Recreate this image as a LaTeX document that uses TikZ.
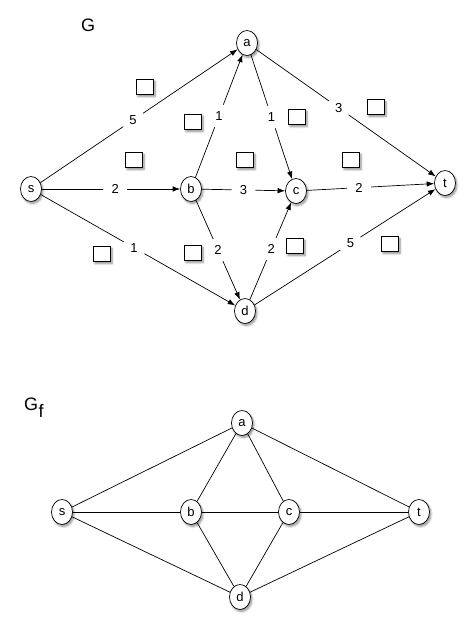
\documentclass[tikz,border=0pt]{standalone}
\usepackage{fontspec}
\setmainfont{Liberation Sans}
\usetikzlibrary{shapes.geometric,arrows.meta,shadows.blur}
\begin{document}
\begin{tikzpicture}[x=1pt,y=-1pt,
  shd/.style={blur shadow={shadow xshift=1.5pt, shadow yshift=-2pt, shadow blur steps=6, shadow opacity=45}},
  vtx/.style={ellipse, draw, line width=0.7pt, fill=white, minimum width=21pt, minimum height=25pt, inner sep=0pt, font=\fontsize{13}{13}\selectfont, shd},
  arr/.style={-{Latex[length=7.5pt,width=5.5pt]}, line width=0.7pt},
  ln/.style={line width=0.7pt},
  lbl/.style={circle, fill=white, minimum size=24pt, inner sep=0pt, font=\fontsize{13}{13}\selectfont},
  bx/.style={draw, fill=white, minimum width=17pt, minimum height=15pt, inner sep=0pt, line width=0.7pt, shd},
  ttl/.style={anchor=base west, inner sep=0pt, font=\fontsize{18}{18}\selectfont}]
\useasboundingbox (0,0) rectangle (476,632);
% ---------- G ----------
\node[ttl] (G) at (81,31) {G};
\node[vtx] (a) at (247,43) {a};
\node[vtx] (s) at (31,189) {s};
\node[vtx] (b) at (191,189) {b};
\node[vtx] (c) at (296,191) {c};
\node[vtx] (t) at (445,183) {t};
\node[vtx] (d) at (245,311) {d};
\draw[arr] (s) -- node[lbl,pos=.47]{5} (a);
\draw[arr] (b) -- node[lbl,pos=.5]{1} (a);
\draw[arr] (a) -- node[lbl,pos=.5]{1} (c);
\draw[arr] (a) -- node[lbl,pos=.46]{3} (t);
\draw[arr] (s) -- node[lbl,pos=.53]{2} (b);
\draw[arr] (b) -- node[lbl,pos=.5]{3} (c);
\draw[arr] (c) -- node[lbl,pos=.41]{2} (t);
\draw[arr] (s) -- node[lbl,pos=.48]{1} (d);
\draw[arr] (b) -- node[lbl,pos=.5]{2} (d);
\draw[arr] (d) -- node[lbl,pos=.52]{2} (c);
\draw[arr] (d) -- node[lbl,pos=.53]{5} (t);
\node[bx] (q1) at (145,87) {};
\node[bx] (q2) at (193,122) {};
\node[bx] (q3) at (297,117) {};
\node[bx] (q4) at (376,107) {};
\node[bx] (q5) at (134,160) {};
\node[bx] (q6) at (245,160) {};
\node[bx] (q7) at (351,160) {};
\node[bx] (q8) at (102,254) {};
\node[bx] (q9) at (193,253) {};
\node[bx] (q10) at (295,246) {};
\node[bx] (q11) at (390,244) {};
% ---------- G_f ----------
\node[ttl] (Gf) at (24,410) {G\kern0.5pt\raisebox{-7pt}{f}};
\node[vtx] (a2) at (242,423) {a};
\node[vtx] (s2) at (62,512) {s};
\node[vtx] (b2) at (191,512) {b};
\node[vtx] (c2) at (289,512) {c};
\node[vtx] (t2) at (419,512) {t};
\node[vtx] (d2) at (240,597) {d};
\draw[ln] (s2) -- (a2);
\draw[ln] (s2) -- (b2);
\draw[ln] (s2) -- (d2);
\draw[ln] (a2) -- (b2);
\draw[ln] (a2) -- (c2);
\draw[ln] (a2) -- (t2);
\draw[ln] (b2) -- (c2);
\draw[ln] (b2) -- (d2);
\draw[ln] (c2) -- (d2);
\draw[ln] (c2) -- (t2);
\draw[ln] (d2) -- (t2);
\end{tikzpicture}
\end{document}
